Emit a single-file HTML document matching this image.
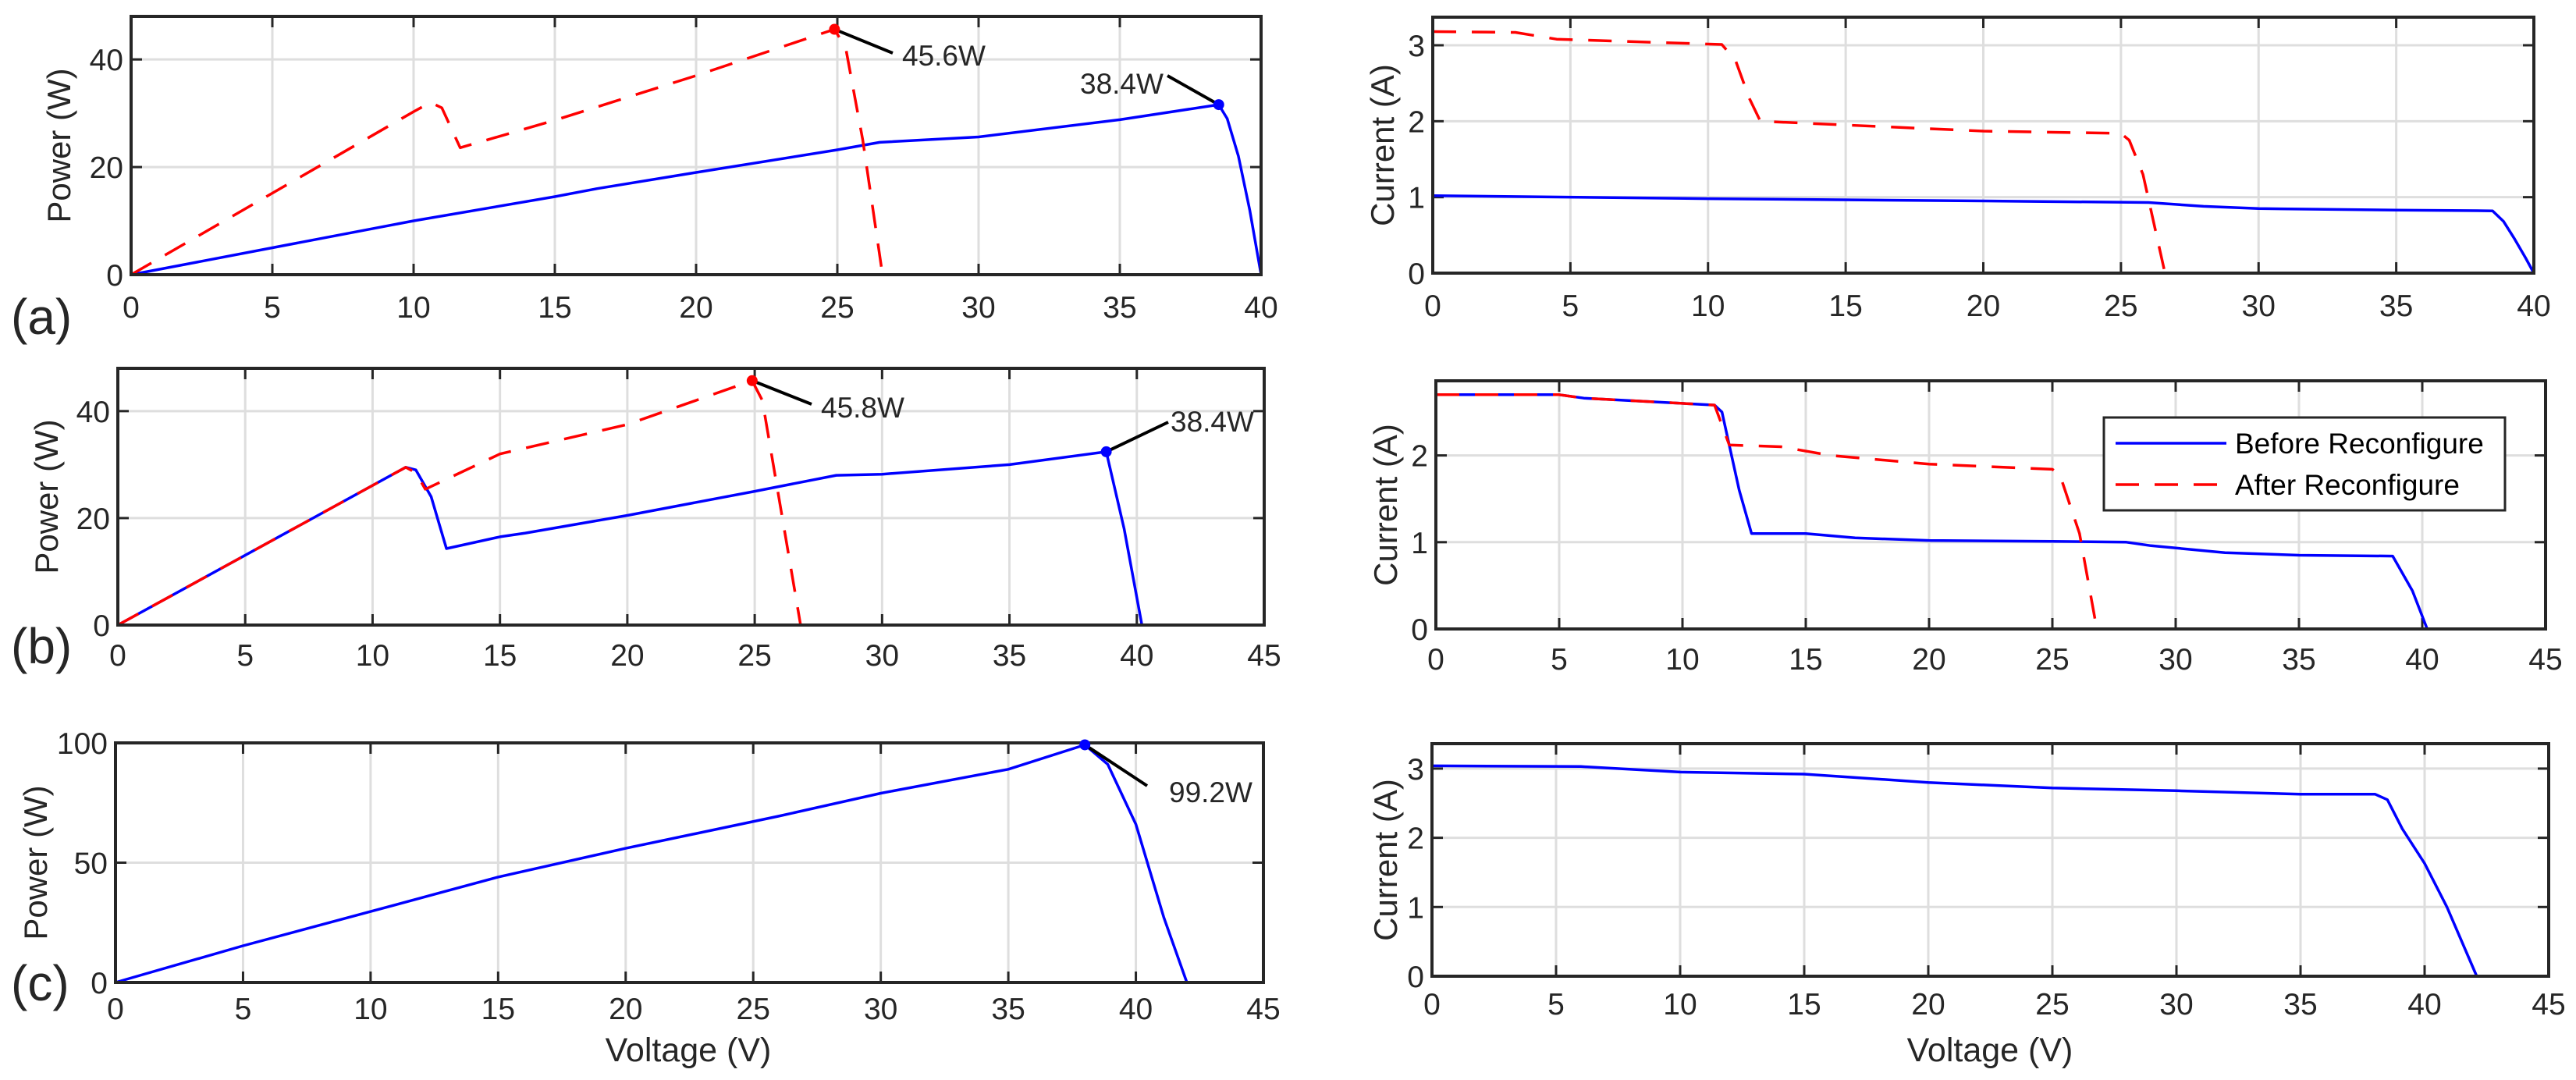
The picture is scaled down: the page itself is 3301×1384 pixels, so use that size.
<!DOCTYPE html>
<html><head><meta charset="utf-8">
<style>
html,body{margin:0;padding:0;background:#fff;}
svg{display:block;font-family:"Liberation Sans",Arial,sans-serif;}
</style></head>
<body>
<svg id="fig" width="3301" height="1384" viewBox="0 0 3301 1384" xmlns="http://www.w3.org/2000/svg"></svg>
<script>
// ---- data (V in volts, P in W, I in A) ----
const aPowBeforeV = [0,5,10,15,16.5,20,25,26.5,30,35,38.5,38.8,39.2,39.6,40];
const aPowBeforeP = [0,5,10,14.5,16,19,23.2,24.6,25.6,28.8,31.6,29,22,12,0];
const aPowAfterV = [0,10,10.6,11.0,11.65,15,20,24.9,25.3,25.9,26.6];
const aPowAfterP = [0,30.3,32,31,23.6,28.7,37,45.6,42,25,0];
const aCurBeforeV = [0,10,20,26,28,30,35,38.5,38.9,39.3,39.7,40];
const aCurBeforeI = [1.02,0.98,0.95,0.93,0.88,0.85,0.83,0.82,0.68,0.45,0.2,0];
const aCurAfterV = [0,3,4.5,10.5,11,11.5,11.9,15,20,25,25.3,25.8,26.6];
const aCurAfterI = [3.18,3.17,3.08,3.01,2.8,2.3,2.0,1.95,1.87,1.84,1.75,1.3,0];

const bPowBeforeV = [0,11.3,11.7,12.3,12.9,15,16,20,25,28.2,30,35,38.8,39.5,40.2];
const bPowBeforeP = [0,29.5,29,24,14.3,16.5,17.2,20.5,25,28,28.2,30,32.4,18,0];
const bPowAfterV = [0,11.3,11.7,12.07,15,20,24.9,25.3,26.8];
const bPowAfterP = [0,29.5,28.5,25.4,32,37.5,45.7,42,0];
const bCurBeforeV = [0,5,6,11.3,11.6,12.3,12.8,15,17,20,25,28,29,32,35,38.8,39.6,40.2];
const bCurBeforeI = [2.7,2.7,2.66,2.58,2.5,1.6,1.1,1.1,1.05,1.02,1.01,1.0,0.96,0.88,0.85,0.84,0.44,0];
const bCurAfterV = [0,5,6,11.3,11.9,14,16,20,25,25.3,26.1,26.8];
const bCurAfterI = [2.7,2.7,2.66,2.58,2.12,2.1,2.0,1.9,1.84,1.78,1.1,0];

const cPowV = [0,5,10,15,20,26,30,35,38,38.9,40,41.1,42];
const cPowP = [0,15.3,29.6,44,56,69.4,79,89,99.2,91,66,27,0];
const cCurV = [0,6,10,15,20,25,30,35,38,38.5,39.1,40,40.9,42.1];
const cCurI = [3.04,3.03,2.95,2.92,2.8,2.72,2.68,2.63,2.63,2.55,2.13,1.63,1.0,0];

const xTicks40 = [0,5,10,15,20,25,30,35,40];
const xTicks45 = [0,5,10,15,20,25,30,35,40,45];
const powTicks = [0,20,40];
const powTicksC = [0,50,100];
const curTicksA = [0,1,2,3];
const curTicksB = [0,1,2];
const curTicksC = [0,1,2,3];

const NS = 'http://www.w3.org/2000/svg';
const svg = document.getElementById('fig');
function mk(tag, attrs, parent){
  const e = document.createElementNS(NS, tag);
  for (const k in attrs) e.setAttribute(k, attrs[k]);
  (parent||svg).appendChild(e);
  return e;
}
const AX = '#262626';

function panel(name, box, xmax, ymax, xt, yt, ylabel, labelX, xoff){
  const g = mk('g', {});
  
  
  const sx = v => box.x0 + (v/xmax)*(box.x1-box.x0);
  const sy = v => box.y1 - (v/ymax)*(box.y1-box.y0);
  xt.forEach(t => {
    const l = mk('line', {x1:sx(t), x2:sx(t), y1:box.y0, y2:box.y1, stroke:'#dedede', 'stroke-width':3}, g);
    
    
  });
  yt.forEach(t => {
    const l = mk('line', {x1:box.x0, x2:box.x1, y1:sy(t), y2:sy(t), stroke:'#dedede', 'stroke-width':3}, g);
    
    
  });
  xt.forEach(t => {
    mk('line', {x1:sx(t), x2:sx(t), y1:box.y1, y2:box.y1-14, stroke:AX, 'stroke-width':3}, g);
    mk('line', {x1:sx(t), x2:sx(t), y1:box.y0, y2:box.y0+14, stroke:AX, 'stroke-width':3}, g);
    const tx = mk('text', {x:sx(t), y:box.y1+xoff, 'font-size':39, 'text-anchor':'middle', fill:AX}, g);
    tx.textContent = t;
    
    
  });
  yt.forEach(t => {
    mk('line', {x1:box.x0, x2:box.x0+14, y1:sy(t), y2:sy(t), stroke:AX, 'stroke-width':3}, g);
    mk('line', {x1:box.x1, x2:box.x1-14, y1:sy(t), y2:sy(t), stroke:AX, 'stroke-width':3}, g);
    const tx = mk('text', {x:box.x0-10, y:sy(t)+14, 'font-size':39, 'text-anchor':'end', fill:AX}, g);
    tx.textContent = t;
    
    
  });
  const yl = mk('text', {x:0, y:0, 'font-size':42, 'text-anchor':'middle', fill:AX,
    transform:`translate(${labelX},${(box.y0+box.y1)/2}) rotate(-90)`}, g);
  yl.textContent = ylabel;
  
  
  return {g, sx, sy, box};
}
function frame(p){
  const f = mk('rect', {x:p.box.x0, y:p.box.y0, width:p.box.x1-p.box.x0, height:p.box.y1-p.box.y0, fill:'none', stroke:AX, 'stroke-width':4}, p.g);
  
  
}
function series(p, xs, ys, color, dashed, name){
  const d = xs.map((v,i)=>(i?'L':'M')+p.sx(v).toFixed(1)+','+p.sy(ys[i]).toFixed(1)).join('');
  const path = mk('path', {d, fill:'none', stroke:color, 'stroke-width':3.5, 'stroke-linejoin':'round'}, p.g);
  if (dashed) path.setAttribute('stroke-dasharray', '30 20');
  
  
}
function annot(p, v, val, color, lx, ly, text, tx, ty, name){
  const cx = p.sx(v), cy = p.sy(val);
  mk('line', {x1:cx, y1:cy, x2:lx, y2:ly, stroke:'#000', 'stroke-width':4}, p.g);
  const c = mk('circle', {cx, cy, r:7, fill:color}, p.g);
  
  
  const t = mk('text', {x:tx, y:ty, 'font-size':37, fill:AX}, p.g);
  t.textContent = text;
  
  
}
const BLUE = '#0000ff', RED = '#ff0000';

// (a) power
let p = panel('power-plot-a', {x0:168,x1:1616,y0:21,y1:352}, 40, 48, xTicks40, powTicks, 'Power (W)', 90, 55);
series(p, aPowBeforeV, aPowBeforeP, BLUE, false, 'power-before-a');
series(p, aPowAfterV, aPowAfterP, RED, true, 'power-after-a');
frame(p);
annot(p, aPowAfterV[7], aPowAfterP[7], RED, 1144, 68, aPowAfterP[7]+'W', 1156, 84, 'mpp-after-a');
annot(p, 38.5, 31.6, BLUE, 1496, 97, '38.4W', 1384, 120, 'mpp-before-a');

// (a) current
p = panel('current-plot-a', {x0:1836,x1:3247,y0:22,y1:350}, 40, 3.37, xTicks40, curTicksA, 'Current (A)', 1786, 55);
series(p, aCurBeforeV, aCurBeforeI, BLUE, false, 'current-before-a');
series(p, aCurAfterV, aCurAfterI, RED, true, 'current-after-a');
frame(p);

// (b) power
p = panel('power-plot-b', {x0:151,x1:1620,y0:472,y1:801}, 45, 48, xTicks45, powTicks, 'Power (W)', 74, 52);
series(p, bPowBeforeV, bPowBeforeP, BLUE, false, 'power-before-b');
series(p, bPowAfterV, bPowAfterP, RED, true, 'power-after-b');
frame(p);
annot(p, bPowAfterV[6], bPowAfterP[6], RED, 1040, 518, '45.8W', 1052, 535, 'mpp-after-b');
annot(p, 38.8, 32.4, BLUE, 1497, 541, '38.4W', 1500, 553, 'mpp-before-b');

// (b) current
p = panel('current-plot-b', {x0:1840,x1:3262,y0:488,y1:806}, 45, 2.86, xTicks45, curTicksB, 'Current (A)', 1790, 52);
series(p, bCurBeforeV, bCurBeforeI, BLUE, false, 'current-before-b');
series(p, bCurAfterV, bCurAfterI, RED, true, 'current-after-b');
frame(p);
const lg = mk('g', {});


mk('rect', {x:2696, y:535, width:514, height:119, fill:'#fff', stroke:AX, 'stroke-width':3}, lg);
mk('line', {x1:2711, x2:2853, y1:568, y2:568, stroke:BLUE, 'stroke-width':3.5}, lg);
mk('line', {x1:2711, x2:2853, y1:621, y2:621, stroke:RED, 'stroke-width':3.5, 'stroke-dasharray':'30 20'}, lg);
let lt = mk('text', {x:2864, y:581, 'font-size':37, fill:'#000'}, lg);
lt.textContent = 'Before Reconfigure';


lt = mk('text', {x:2864, y:634, 'font-size':37, fill:'#000'}, lg);
lt.textContent = 'After Reconfigure';



// (c) power
p = panel('power-plot-c', {x0:148,x1:1619,y0:952,y1:1259}, 45, 100, xTicks45, powTicksC, 'Power (W)', 60, 47);
series(p, cPowV, cPowP, BLUE, false, 'power-c');
frame(p);
annot(p, 38, 99.2, BLUE, 1470, 1007, '99.2W', 1498, 1028, 'mpp-c');

// (c) current
p = panel('current-plot-c', {x0:1835,x1:3266,y0:953,y1:1251}, 45, 3.36, xTicks45, curTicksC, 'Current (A)', 1790, 49);
series(p, cCurV, cCurI, BLUE, false, 'current-c');
frame(p);

[[882,'voltage-axis-title-left'],[2550,'voltage-axis-title-right']].forEach(([x,n])=>{
  const t = mk('text', {x, y:1360, 'font-size':43, 'text-anchor':'middle', fill:AX});
  t.textContent = 'Voltage (V)';
  
  
});
[['(a)',428,'panel-label-a'],['(b)',850,'panel-label-b'],['(c)',1282,'panel-label-c']].forEach(([s,y,n])=>{
  const t = mk('text', {x:14, y, 'font-size':64, fill:AX});
  t.textContent = s;
  
  
});
</script>
</body></html>
